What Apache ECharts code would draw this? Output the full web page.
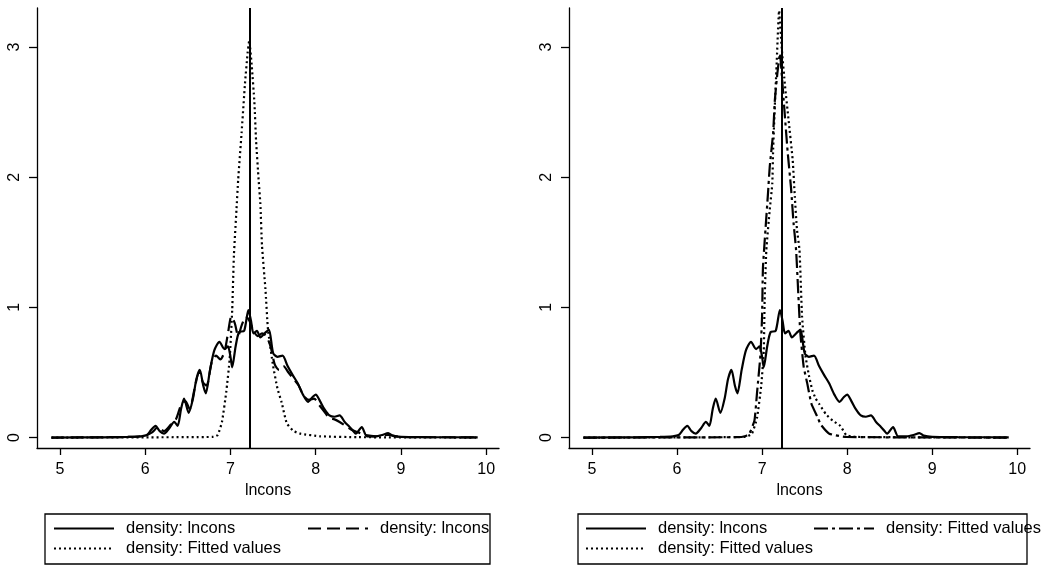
<!DOCTYPE html>
<html>
<head>
<meta charset="utf-8">
<title>Density of lncons and fitted values</title>
<script src="https://cdn.jsdelivr.net/npm/echarts@6/dist/echarts.min.js"></script>
<style>
  html, body { margin: 0; padding: 0; background: #ffffff; }
  #chart { width: 1049px; height: 566px; }
</style>
</head>
<body>
<div id="chart"></div>
<script>
// Tick positions for both panels
const xTicks = [5, 6, 7, 8, 9, 10];
const yTicks = [0, 1, 2, 3];
const xTitle = 'lncons';
const refLine = 7.23; // vertical reference line (mean of lncons)

// Kernel density of lncons, [lncons, density]
const densLncons = [
  [4.90, 0], [5.50, 0.002], [5.80, 0.005], [5.95, 0.01], [6.02, 0.02], [6.07, 0.06],
  [6.12, 0.09], [6.17, 0.05], [6.22, 0.03], [6.28, 0.07], [6.34, 0.12], [6.38, 0.09],
  [6.42, 0.22], [6.455, 0.30], [6.51, 0.19], [6.56, 0.30], [6.60, 0.45], [6.64, 0.52],
  [6.68, 0.40], [6.71, 0.34], [6.76, 0.52], [6.81, 0.67], [6.87, 0.735], [6.93, 0.68],
  [6.97, 0.70], [7.00, 0.62], [7.02, 0.54], [7.06, 0.70], [7.10, 0.81], [7.16, 0.82],
  [7.21, 0.98], [7.24, 0.90], [7.27, 0.80], [7.31, 0.82], [7.35, 0.77], [7.40, 0.80],
  [7.45, 0.83], [7.50, 0.65], [7.55, 0.62], [7.61, 0.63], [7.67, 0.55], [7.73, 0.48],
  [7.79, 0.415], [7.85, 0.33], [7.91, 0.275], [7.96, 0.31], [8.00, 0.33], [8.05, 0.28],
  [8.10, 0.22], [8.16, 0.17], [8.22, 0.16], [8.28, 0.17], [8.34, 0.12], [8.40, 0.08],
  [8.44, 0.05], [8.47, 0.03], [8.54, 0.08], [8.60, 0.01], [8.70, 0.01], [8.78, 0.02],
  [8.85, 0.035], [8.90, 0.015], [9.00, 0.005], [9.30, 0.003], [9.90, 0.002]
];

// Second density estimate of lncons (dashed, left panel)
const densLnconsAlt = [
  [4.90, 0], [5.80, 0.005], [6.00, 0.015], [6.08, 0.04], [6.15, 0.08], [6.22, 0.05],
  [6.30, 0.10], [6.36, 0.14], [6.42, 0.25], [6.47, 0.28], [6.52, 0.22], [6.58, 0.38],
  [6.63, 0.50], [6.68, 0.42], [6.72, 0.40], [6.78, 0.58], [6.83, 0.63], [6.88, 0.60],
  [6.93, 0.66], [6.97, 0.80], [7.01, 0.93], [7.05, 0.88], [7.09, 0.78], [7.13, 0.86],
  [7.18, 0.93], [7.22, 0.90], [7.27, 0.82], [7.32, 0.78], [7.37, 0.80], [7.42, 0.78],
  [7.47, 0.70], [7.52, 0.56], [7.57, 0.52], [7.62, 0.55], [7.68, 0.50], [7.74, 0.45],
  [7.80, 0.40], [7.86, 0.32], [7.92, 0.29], [7.98, 0.30], [8.04, 0.25], [8.10, 0.20],
  [8.16, 0.15], [8.22, 0.14], [8.28, 0.12], [8.35, 0.09], [8.42, 0.06], [8.50, 0.04],
  [8.58, 0.02], [8.70, 0.01], [8.85, 0.02], [9.00, 0.005], [9.90, 0.002]
];

// Density of fitted values (dotted, left panel)
const densFittedLeft = [
  [4.90, 0], [6.80, 0.005], [6.85, 0.02], [6.90, 0.12], [6.95, 0.35], [6.99, 0.60],
  [7.02, 0.98], [7.04, 1.40], [7.07, 1.75], [7.09, 1.98], [7.13, 2.34], [7.17, 2.72],
  [7.20, 2.95], [7.22, 3.05], [7.25, 2.85], [7.28, 2.58], [7.30, 2.28], [7.33, 1.98],
  [7.35, 1.80], [7.37, 1.47], [7.41, 1.14], [7.44, 0.83], [7.50, 0.55], [7.55, 0.38],
  [7.60, 0.27], [7.66, 0.11], [7.74, 0.05], [7.82, 0.03], [8.05, 0.01], [8.50, 0.003],
  [9.90, 0]
];

// Density of fitted values, first model (dash-dot, right panel)
const densFittedA = [
  [4.90, 0], [6.70, 0.003], [6.80, 0.01], [6.85, 0.03], [6.91, 0.13], [6.94, 0.34],
  [6.98, 0.63], [7.00, 0.93], [7.01, 1.30], [7.04, 1.60], [7.07, 1.88], [7.09, 2.08],
  [7.13, 2.34], [7.15, 2.59], [7.18, 2.80], [7.21, 2.95], [7.23, 2.80], [7.26, 2.54],
  [7.30, 2.20], [7.34, 1.92], [7.37, 1.65], [7.40, 1.44], [7.43, 1.05], [7.45, 0.80],
  [7.49, 0.54], [7.53, 0.42], [7.58, 0.26], [7.65, 0.16], [7.69, 0.10], [7.79, 0.03],
  [7.99, 0.005], [9.90, 0]
];

// Density of fitted values, second model (dotted, right panel)
const densFittedB = [
  [4.90, 0], [6.80, 0.005], [6.88, 0.03], [6.94, 0.15], [6.99, 0.40], [7.02, 0.67],
  [7.03, 1.05], [7.05, 1.44], [7.09, 1.75], [7.12, 1.95], [7.13, 2.21], [7.15, 2.55],
  [7.17, 2.85], [7.20, 3.28], [7.23, 3.00], [7.27, 2.70], [7.31, 2.45], [7.36, 2.13],
  [7.385, 1.85], [7.41, 1.60], [7.44, 1.44], [7.47, 0.93], [7.51, 0.63], [7.55, 0.48],
  [7.59, 0.365], [7.63, 0.30], [7.67, 0.26], [7.75, 0.18], [7.83, 0.13], [7.92, 0.09],
  [7.99, 0.02], [8.10, 0.005], [9.90, 0]
];

// Legend texts keyed by series name
const legendText = {
  L1: 'density: lncons',
  L2: 'density: lncons',
  L3: 'density: Fitted values',
  R1: 'density: lncons',
  R2: 'density: Fitted values',
  R3: 'density: Fitted values'
};

const FONT = '"Liberation Sans", Arial, Helvetica, sans-serif';
const INK = '#000000';
const NONE = 'rgba(0,0,0,0)';

function makeXAxis(gridIndex) {
  return {
    gridIndex: gridIndex,
    type: 'value',
    min: 4.73,
    max: 10.15,
    name: xTitle,
    nameLocation: 'middle',
    nameGap: 34,
    nameTextStyle: { color: INK, fontSize: 16, fontFamily: FONT },
    axisLine: { show: true, onZero: false, lineStyle: { color: INK, width: 1.3 } },
    axisTick: { show: true, length: 7, customValues: xTicks, lineStyle: { color: INK, width: 1.3 } },
    axisLabel: { customValues: xTicks, color: INK, fontSize: 16, fontFamily: FONT, margin: 14 },
    splitLine: { show: false }
  };
}

function makeYAxis(gridIndex) {
  return {
    gridIndex: gridIndex,
    type: 'value',
    min: -0.08,
    max: 3.3,
    axisLine: { show: true, onZero: false, lineStyle: { color: INK, width: 1.3 } },
    axisTick: { show: true, length: 8, customValues: yTicks, lineStyle: { color: INK, width: 1.3 } },
    axisLabel: { customValues: yTicks, rotate: 90, color: INK, fontSize: 16, fontFamily: FONT, margin: 14 },
    splitLine: { show: false }
  };
}

function lineSeries(name, data, gridIndex, dash, width, extra) {
  return Object.assign({
    name: name,
    type: 'line',
    xAxisIndex: gridIndex,
    yAxisIndex: gridIndex,
    data: data,
    symbol: 'none',
    showSymbol: false,
    smooth: 0.25,
    animation: false,
    lineStyle: { color: INK, width: width, type: dash, cap: 'butt' },
    itemStyle: { color: INK }
  }, extra || {});
}

function refMark() {
  return {
    silent: true,
    symbol: 'none',
    label: { show: false },
    lineStyle: { color: INK, width: 2, type: 'solid' },
    data: [{ xAxis: refLine }]
  };
}

function legendItem(name, left, top) {
  return {
    data: [name],
    left: left,
    top: top,
    padding: 0,
    itemWidth: 60,
    itemHeight: 12,
    selectedMode: false,
    // line sample only: the marker drawn on the sample is made invisible
    itemStyle: { color: NONE, borderColor: NONE, borderWidth: 0 },
    formatter: function (n) { return legendText[n]; },
    textStyle: { color: INK, fontSize: 16.5, fontFamily: FONT, padding: [0, 0, 0, 7] }
  };
}

const DOT = [2, 3];
const DASH = [13, 6];
const DASHDOT = [14, 4, 3, 4];

const row1 = 520, row2 = 540;

const option = {
  backgroundColor: '#ffffff',
  animation: false,
  grid: [
    { left: 37, top: 8, width: 462, height: 440 },
    { left: 569, top: 8, width: 461, height: 440 }
  ],
  xAxis: [makeXAxis(0), makeXAxis(1)],
  yAxis: [makeYAxis(0), makeYAxis(1)],
  legend: [
    legendItem('L1', 53, row1),
    legendItem('L2', 307, row1),
    legendItem('L3', 53, row2),
    legendItem('R1', 585, row1),
    legendItem('R2', 813, row1),
    legendItem('R3', 585, row2)
  ],
  graphic: [
    { type: 'rect', shape: { x: 45, y: 514, width: 445, height: 50 },
      style: { fill: 'none', stroke: INK, lineWidth: 1.3 }, silent: true },
    { type: 'rect', shape: { x: 578, y: 514, width: 449, height: 50 },
      style: { fill: 'none', stroke: INK, lineWidth: 1.3 }, silent: true }
  ],
  series: [
    lineSeries('L3', densFittedLeft, 0, DOT, 2.2, { smooth: 0.15 }),
    lineSeries('L2', densLnconsAlt, 0, DASH, 2.2),
    lineSeries('L1', densLncons, 0, 'solid', 2.2, { markLine: refMark() }),
    lineSeries('R3', densFittedB, 1, DOT, 2.2, { smooth: 0.15 }),
    lineSeries('R2', densFittedA, 1, DASHDOT, 2.2, { smooth: 0.15 }),
    lineSeries('R1', densLncons, 1, 'solid', 2.2, { markLine: refMark() })
  ]
};

const chart = echarts.init(document.getElementById('chart'), null, { renderer: 'canvas' });
chart.setOption(option);
</script>
</body>
</html>
